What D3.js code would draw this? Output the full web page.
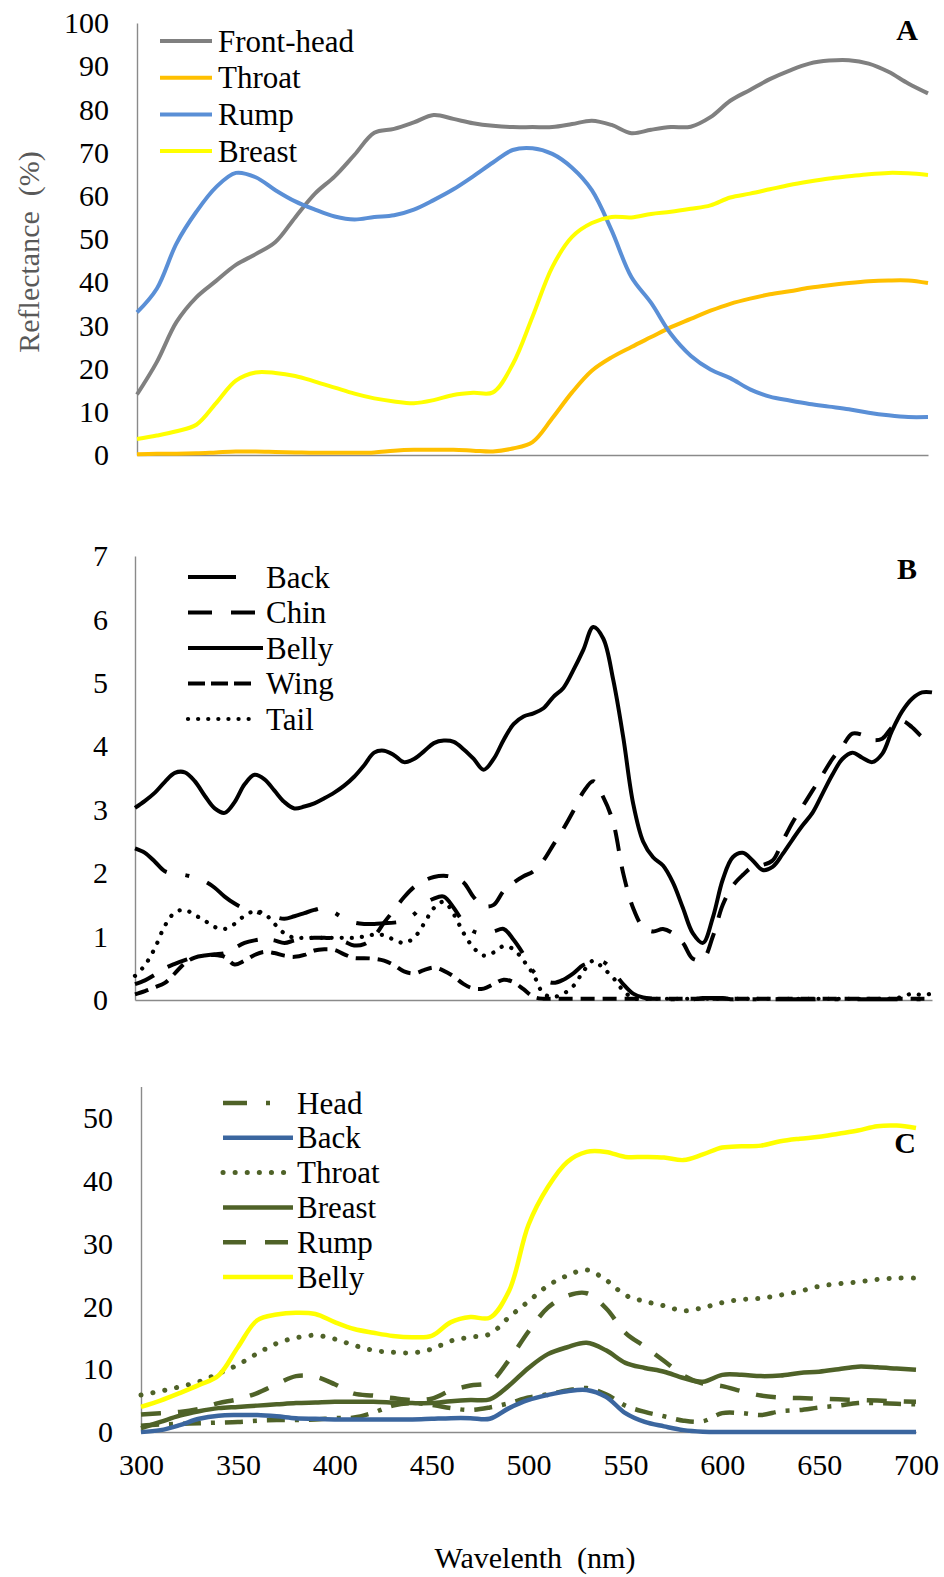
<!DOCTYPE html>
<html>
<head>
<meta charset="utf-8">
<script src="https://cdn.jsdelivr.net/npm/d3@7"></script>
<style>
  html, body { margin: 0; padding: 0; background: #fff; }
  svg { display: block; }
  svg text { font-family: "Liberation Serif", "Times New Roman", serif !important; }
</style>
</head>
<body>
<svg id="chart" width="944" height="1577"></svg>
<script>
// ---------- Panel A: reflectance (%) sampled every 10 nm ----------
const wavelengthsA = [300,310,320,330,340,350,360,370,380,390,400,410,420,430,440,450,460,470,480,490,500,
  510,520,530,540,550,560,570,580,590,600,610,620,630,640,650,660,670,680,690,700];
const frontHeadA = [14,21.5,30.8,36.5,40.3,44,46.5,49.3,55,60.5,64.5,69.5,74.6,75.5,77,78.7,77.8,76.8,76.2,75.9,75.9,
  75.9,76.6,77.4,76.4,74.5,75.3,75.9,76,78.2,82,84.5,87,89,90.6,91.3,91.4,90.6,88.7,86,83.7];
const throatA = [0.2,0.3,0.3,0.4,0.6,0.8,0.8,0.7,0.6,0.5,0.5,0.5,0.6,1,1.2,1.2,1.2,1,0.8,1.5,3,
  8.5,14.5,19.5,22.6,25,27.3,29.6,31.5,33.4,35,36.2,37.2,37.9,38.7,39.3,39.8,40.2,40.4,40.4,39.8];
const rumpA = [33,38.5,49,56.3,62,65.3,64.3,61.3,58.7,56.8,55.2,54.5,55.1,55.5,56.8,59,61.5,64.5,67.7,70.6,71,
  69.7,66.5,61.3,52,41.2,35.2,28,23,19.8,17.8,15.2,13.5,12.6,11.8,11.2,10.6,9.8,9.2,8.8,8.8];
const breastA = [3.7,4.5,5.5,7,12,17.2,19.1,19,18.3,17,15.6,14.2,13.1,12.4,12,12.7,13.9,14.4,14.5,21,32,
  43.5,50.5,53.7,55.1,55,55.8,56.3,57,57.8,59.6,60.5,61.5,62.5,63.3,64,64.5,65,65.3,65.2,64.8];
const ticksA = [0,10,20,30,40,50,60,70,80,90,100];

// ---------- Panel B: reflectance sampled every 5 nm ----------
const wavelengthsB = [300,305,310,315,320,325,330,335,340,345,350,355,360,365,370,375,380,385,390,395,
  400,405,410,415,420,425,430,435,440,445,450,455,460,465,470,475,480,485,490,495,
  500,505,510,515,520,525,530,535,540,545,550,555,560,565,570,575,580,585,590,595,
  600,605,610,615,620,625,630,635,640,645,650,655,660,665,670,675,680,685,690,695,700];
const backB = [2.39,2.32,2.18,2.03,1.99,1.97,1.93,1.87,1.77,1.63,1.52,1.44,1.40,1.35,1.31,1.28,1.32,1.37,1.42,1.45,
  1.38,1.28,1.22,1.20,1.20,1.21,1.22,1.25,1.35,1.51,1.60,1.63,1.45,1.22,1.08,1.05,1.08,1.12,0.95,0.72,
  0.45,0.32,0.27,0.32,0.42,0.55,0.60,0.60,0.45,0.25,0.10,0.04,0.02,0.01,0.01,0.01,0.01,0.03,0.03,0.03,
  0.01,0.01,0.01,0.01,0.01,0.01,0.01,0.01,0.01,0.01,0.01,0.01,0.01,0.01,0.01,0.01,0.01,0.01,0.01,0.01,0.01];
const chinB = [0.25,0.31,0.40,0.50,0.57,0.63,0.68,0.70,0.72,0.74,0.82,0.90,0.94,0.96,0.94,0.90,0.94,0.97,0.98,0.98,
  0.97,0.92,0.86,0.88,1.00,1.22,1.42,1.62,1.78,1.88,1.94,1.96,1.93,1.85,1.62,1.48,1.50,1.72,1.85,1.95,
  2.03,2.20,2.45,2.70,2.98,3.28,3.45,3.20,2.80,2.00,1.45,1.15,1.08,1.12,1.05,0.90,0.65,0.64,1.00,1.50,
  1.80,1.97,2.10,2.13,2.20,2.50,2.80,3.05,3.30,3.55,3.80,4.00,4.20,4.18,4.10,4.12,4.30,4.40,4.30,4.15,4.08];
const bellyB = [3.03,3.14,3.27,3.44,3.58,3.59,3.45,3.22,3.02,2.95,3.12,3.40,3.55,3.48,3.30,3.12,3.02,3.05,3.10,3.18,
  3.27,3.38,3.52,3.70,3.90,3.93,3.86,3.75,3.80,3.92,4.05,4.09,4.07,3.95,3.80,3.63,3.80,4.10,4.35,4.47,
  4.52,4.60,4.78,4.92,5.20,5.52,5.88,5.70,5.05,4.15,3.10,2.50,2.25,2.12,1.85,1.45,1.05,0.90,1.30,1.90,
  2.25,2.32,2.20,2.05,2.10,2.30,2.53,2.75,2.95,3.25,3.55,3.80,3.90,3.82,3.75,3.88,4.25,4.55,4.75,4.85,4.85];
const wingB = [0.09,0.14,0.20,0.27,0.42,0.58,0.67,0.70,0.71,0.68,0.56,0.62,0.71,0.76,0.74,0.70,0.68,0.71,0.78,0.80,
  0.79,0.72,0.66,0.66,0.65,0.62,0.55,0.45,0.42,0.47,0.51,0.46,0.37,0.25,0.18,0.18,0.25,0.32,0.28,0.17,
  0.05,0.02,0.02,0.02,0.02,0.02,0.02,0.02,0.02,0.02,0.02,0.02,0.02,0.02,0.02,0.02,0.02,0.02,0.02,0.02,
  0.02,0.02,0.02,0.02,0.02,0.02,0.02,0.02,0.02,0.02,0.02,0.02,0.02,0.02,0.02,0.02,0.02,0.02,0.02,0.02,0.02];
const tailB = [0.38,0.55,0.82,1.17,1.38,1.42,1.34,1.25,1.15,1.12,1.20,1.33,1.40,1.36,1.20,1.05,0.98,0.98,0.98,0.98,
  0.98,0.98,0.98,1.00,1.03,1.02,0.95,0.90,0.98,1.20,1.45,1.55,1.35,1.05,0.82,0.70,0.75,0.85,0.80,0.62,
  0.40,0.10,0.05,0.10,0.22,0.45,0.62,0.50,0.35,0.15,0.03,0.02,0.02,0.02,0.02,0.02,0.02,0.02,0.02,0.02,
  0.02,0.02,0.02,0.02,0.02,0.02,0.02,0.02,0.02,0.02,0.02,0.02,0.02,0.02,0.02,0.02,0.02,0.05,0.10,0.08,0.10];
const ticksB = [0,1,2,3,4,5,6,7];

// ---------- Panel C: reflectance (%) sampled every 10 nm ----------
const wavelengthsC = [300,310,320,330,340,350,360,370,380,390,400,410,420,430,440,450,460,470,480,490,500,
  510,520,530,540,550,560,570,580,590,600,610,620,630,640,650,660,670,680,690,700];
const headC = [1.0,1.2,1.3,1.4,1.5,1.6,1.8,1.9,1.9,2.0,2.2,2.3,3.1,4.2,4.6,4.3,3.8,3.5,3.9,4.6,5.5,
  6.0,6.6,7.0,6.0,4.2,3.2,2.5,1.8,1.7,3.0,3.0,2.7,3.3,3.5,3.9,4.2,4.6,4.6,4.5,4.4];
const backC = [0,0.3,1.1,2.1,2.6,2.7,2.7,2.5,2.2,2.1,2.0,2.0,2.0,2.0,2.0,2.1,2.2,2.2,2.1,3.8,5.1,
  5.9,6.5,6.7,5.6,3.0,1.6,0.9,0.3,0.05,0,0,0,0,0,0,0,0,0,0,0];
const throatC = [5.9,6.5,7.2,8.0,9.3,10.7,12.5,14.1,15.0,15.4,14.8,13.8,13.0,12.7,12.6,13.2,14.5,15.1,15.6,18.3,20.8,
  23.3,24.9,25.8,24.2,21.8,20.8,20.1,19.3,19.8,20.6,21.1,21.3,21.8,22.4,23.2,23.6,23.9,24.3,24.5,24.5];
const breastC = [0.6,1.6,2.6,3.3,3.8,4.0,4.2,4.4,4.6,4.7,4.8,4.8,4.8,4.7,4.6,4.6,4.9,5.1,5.2,7.4,10.2,
  12.4,13.5,14.2,13.0,11.0,10.2,9.6,8.6,8.0,9.1,9.1,8.9,9.0,9.4,9.6,10.0,10.4,10.3,10.1,9.9];
const rumpC = [2.8,3.0,3.2,3.7,4.6,5.2,6.2,7.6,8.9,8.8,7.6,6.1,5.8,5.4,5.1,5.3,6.6,7.4,7.9,11.5,16.0,
  19.8,21.7,22.1,19.7,15.8,13.6,11.3,9.0,7.7,7.3,6.5,5.8,5.5,5.4,5.3,5.2,5.1,5.0,4.9,4.8];
const bellyC = [4.0,5.0,6.2,7.5,9.0,13.5,17.8,18.7,19.0,18.8,17.5,16.4,15.8,15.3,15.1,15.3,17.5,18.3,18.2,22.5,33.0,
  39.0,43.0,44.6,44.6,43.8,43.8,43.7,43.3,44.2,45.3,45.5,45.6,46.3,46.7,47.0,47.5,48.0,48.7,48.8,48.4];
const ticksC = [0,10,20,30,40,50];

const wavelengthTicks = [300,350,400,450,500,550,600,650,700];

// ---------- line styles ----------
const GREEN = "#4f6228";
const styles = {
  frontHeadA: { color: "#808080", width: 4 },
  throatA:    { color: "#ffc000", width: 4 },
  rumpA:      { color: "#5a8fd6", width: 4 },
  breastA:    { color: "#ffff00", width: 4 },
  backB:  { color: "#000", width: 4, dash: "40,19,4,19", legendDash: null },
  chinB:  { color: "#000", width: 4, dash: "21,16", legendDash: "24,19" },
  bellyB: { color: "#000", width: 4 },
  wingB:  { color: "#000", width: 4, dash: "14,8", legendDash: "17,6" },
  tailB:  { color: "#000", width: 4.2, dash: "0.1,10", cap: "round" },
  headC:   { color: GREEN, width: 4.5, dash: "18,10,4,10", legendDash: "24,19,4,40" },
  backC:   { color: "#3b669f", width: 4.5 },
  throatC: { color: GREEN, width: 5, dash: "0.1,12", cap: "round" },
  breastC: { color: GREEN, width: 4.5 },
  rumpC:   { color: GREEN, width: 4.5, dash: "20,17", legendDash: "23,19" },
  bellyC:  { color: "#ffff00", width: 4.5 }
};

const panels = [
  {
    letter: "A", letterPos: [907, 29],
    wl: wavelengthsA, xRange: [137, 928], yDomain: [0, 100], yRange: [455, 23], yTicks: ticksA, tickPad: 28,
    series: [
      { name: "Front-head", values: frontHeadA, style: styles.frontHeadA },
      { name: "Throat", values: throatA, style: styles.throatA },
      { name: "Rump", values: rumpA, style: styles.rumpA },
      { name: "Breast", values: breastA, style: styles.breastA }
    ],
    legend: { x0: 160, lens: [52, 52, 52, 52], textX: 218, y0: 41, step: 36.7 }
  },
  {
    letter: "B", letterPos: [907, 568],
    wl: wavelengthsB, xRange: [135, 932], yDomain: [0, 7], yRange: [1000, 556], yTicks: ticksB, tickPad: 27,
    series: [
      { name: "Back", values: backB, style: styles.backB },
      { name: "Chin", values: chinB, style: styles.chinB },
      { name: "Belly", values: bellyB, style: styles.bellyB },
      { name: "Wing", values: wingB, style: styles.wingB },
      { name: "Tail", values: tailB, style: styles.tailB }
    ],
    legend: { x0: 188, lens: [48, 67, 75, 67, 67], textX: 266, y0: 577, step: 35.5 }
  },
  {
    letter: "C", letterPos: [905, 1142],
    wl: wavelengthsC, xRange: [141, 916], yDomain: [0, 55], yRange: [1432, 1086.6], yTicks: ticksC, tickPad: 28,
    xLabels: true,
    series: [
      { name: "Head", values: headC, style: styles.headC },
      { name: "Back", values: backC, style: styles.backC },
      { name: "Throat", values: throatC, style: styles.throatC },
      { name: "Breast", values: breastC, style: styles.breastC },
      { name: "Rump", values: rumpC, style: styles.rumpC },
      { name: "Belly", values: bellyC, style: styles.bellyC }
    ],
    legend: { x0: 223, lens: [70, 70, 70, 70, 70, 70], textX: 297, y0: 1103, step: 34.8 }
  }
];

const svg = d3.select("#chart");
const FONT = "Liberation Serif, Times New Roman, serif";

function styleAxis(g) {
  g.attr("font-family", FONT).attr("font-size", 30);
  g.select(".domain").attr("stroke", "#8a8a8a").attr("stroke-width", 1.4);
  g.selectAll("text")
    .attr("fill", "#000")
    .attr("font-family", FONT)
    .style("font-family", FONT)
    .style("font-size", "30px");
}

function drawPanel(p) {
  const x = d3.scaleLinear().domain([300, 700]).range(p.xRange);
  const y = d3.scaleLinear().domain(p.yDomain).range(p.yRange);
  const g = svg.append("g");

  // axes
  const yAxis = d3.axisLeft(y).tickValues(p.yTicks).tickSize(0).tickPadding(p.tickPad).tickFormat(d3.format("d"));
  const gy = g.append("g").attr("transform", `translate(${p.xRange[0]},0)`).call(yAxis);
  styleAxis(gy);

  const xAxis = d3.axisBottom(x).tickSize(0).tickFormat(d3.format("d"));
  if (p.xLabels) xAxis.tickValues(wavelengthTicks).tickPadding(22);
  else xAxis.tickValues([]);
  const gx = g.append("g").attr("transform", `translate(0,${p.yRange[0]})`).call(xAxis);
  styleAxis(gx);

  // spectra
  const line = d3.line()
    .x((d, i) => x(p.wl[i]))
    .y(d => y(d))
    .curve(d3.curveCatmullRom.alpha(0.5));

  p.series.forEach(s => {
    g.append("path")
      .datum(s.values)
      .attr("d", line)
      .attr("fill", "none")
      .attr("stroke", s.style.color)
      .attr("stroke-width", s.style.width)
      .attr("stroke-linecap", s.style.cap || "butt")
      .attr("stroke-linejoin", "round")
      .attr("stroke-dasharray", s.style.dash || null);
  });

  // legend
  const L = p.legend;
  p.series.forEach((s, i) => {
    const yy = L.y0 + i * L.step;
    const ld = s.style.legendDash !== undefined ? s.style.legendDash : s.style.dash;
    g.append("line")
      .attr("x1", L.x0).attr("x2", L.x0 + L.lens[i])
      .attr("y1", yy).attr("y2", yy)
      .attr("stroke", s.style.color)
      .attr("stroke-width", s.style.width)
      .attr("stroke-linecap", s.style.cap || "butt")
      .attr("stroke-dasharray", ld || null);
    g.append("text")
      .attr("x", L.textX).attr("y", yy)
      .attr("dominant-baseline", "central")
      .attr("font-size", 31)
      .attr("fill", "#000")
      .text(s.name);
  });

  // panel letter
  g.append("text")
    .attr("x", p.letterPos[0]).attr("y", p.letterPos[1])
    .attr("text-anchor", "middle")
    .attr("dominant-baseline", "central")
    .attr("font-size", 30)
    .attr("font-weight", "bold")
    .attr("fill", "#000")
    .text(p.letter);
}

panels.forEach(drawPanel);

// axis titles
svg.append("text")
  .attr("transform", "translate(28,252) rotate(-90)")
  .attr("text-anchor", "middle")
  .attr("dominant-baseline", "central")
  .attr("font-size", 30)
  .attr("fill", "#595959")
  .style("white-space", "pre")
  .text("Reflectance  (%)");

svg.append("text")
  .attr("x", 535).attr("y", 1557)
  .attr("text-anchor", "middle")
  .attr("dominant-baseline", "central")
  .attr("font-size", 30)
  .attr("fill", "#000")
  .style("white-space", "pre")
  .text("Wavelenth  (nm)");
</script>
</body>
</html>
